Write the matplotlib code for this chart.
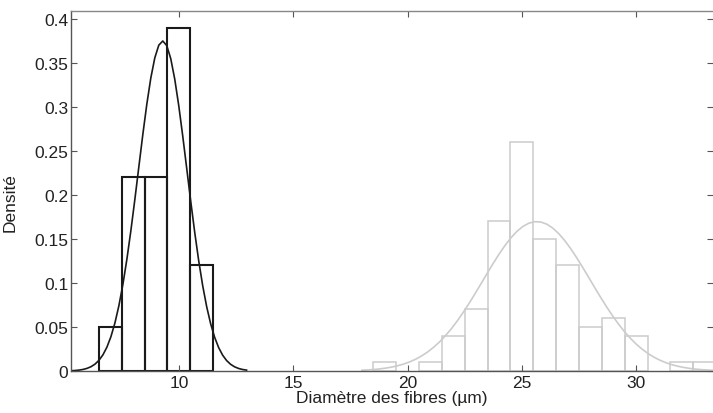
import matplotlib
matplotlib.use('Agg')
import matplotlib.pyplot as plt
import numpy as np

plt.rcParams['font.family'] = ['Liberation Sans', 'DejaVu Sans']

# histogram 1 (dark): bin edges and densities
left_edges = [6.5, 7.5, 8.5, 9.5, 10.5, 11.5]
left_dens = [0.05, 0.22, 0.22, 0.39, 0.12]
# histogram 2 (light)
right_edges = [18.5, 19.5, 20.5, 21.5, 22.5, 23.5, 24.5, 25.5, 26.5, 27.5,
               28.5, 29.5, 30.5, 31.5, 32.5, 33.5]
right_dens = [0.01, 0.0, 0.01, 0.04, 0.07, 0.17, 0.26, 0.15, 0.12, 0.05,
              0.06, 0.04, 0.0, 0.01, 0.01]
# fitted normal laws (mean, std) and the x span of each curve
fit_left = (9.29, 1.064)
fit_right = (25.65, 2.35)
span_left = (5.28, 12.96)
span_right = (18.0, 33.4)

x_ticks = [10, 15, 20, 25, 30]
y_ticks = [0, 0.05, 0.1, 0.15, 0.2, 0.25, 0.3, 0.35, 0.4]
y_labels = ['0', '0.05', '0.1', '0.15', '0.2', '0.25', '0.3', '0.35', '0.4']


def normal_pdf(x, mu, sd):
    return np.exp(-0.5 * ((x - mu) / sd) ** 2) / (sd * np.sqrt(2 * np.pi))


fig = plt.figure(figsize=(7.13, 4.14), dpi=100)
ax = fig.add_axes([71 / 713, 42 / 414, 1 - 71 / 713, (372 - 12) / 414])

light = '#cccccc'
dark = '#1a1a1a'
fs = 12.5

for i in range(len(right_dens)):
    if right_dens[i] > 0:
        ax.bar(right_edges[i], right_dens[i], width=right_edges[i + 1] - right_edges[i],
               align='edge', fill=False, edgecolor=light, linewidth=1.1)
for i in range(len(left_dens)):
    ax.bar(left_edges[i], left_dens[i], width=left_edges[i + 1] - left_edges[i],
           align='edge', fill=False, edgecolor=dark, linewidth=1.5)

xs = np.linspace(span_right[0], span_right[1], 60)
ax.plot(xs, normal_pdf(xs, *fit_right), color=light, linewidth=1.2)
xs = np.linspace(span_left[0], span_left[1], 45)
ax.plot(xs, normal_pdf(xs, *fit_left), color=dark, linewidth=1.2)

ax.set_xlim(5.28, 33.36)
ax.set_ylim(0, 0.409)
ax.set_xticks(x_ticks)
ax.set_xticklabels([str(t) for t in x_ticks])
ax.set_yticks(y_ticks)
ax.set_yticklabels(y_labels)

ax.tick_params(direction='in', length=4, width=0.8, colors='#555555',
               labelcolor='#222222', labelsize=fs, top=True, right=True)
ax.tick_params(axis='y', right=True, color='#dddddd')
ax.tick_params(axis='y', left=True, color='#555555', pad=2)
ax.tick_params(axis='x', pad=3)
ax.spines['right'].set_visible(False)
ax.spines['top'].set_color('#888888')
ax.spines['left'].set_color('#555555')
ax.spines['bottom'].set_color('#555555')
for s in ax.spines.values():
    s.set_linewidth(1.0)

ax.set_xlabel('Diamètre des fibres (µm)', fontsize=fs, color='#222222', labelpad=0)
ax.set_ylabel('Densité', fontsize=fs, color='#222222')
ax.yaxis.set_label_coords(-0.083, 0.472)

fig.savefig('out.png', dpi=100)
